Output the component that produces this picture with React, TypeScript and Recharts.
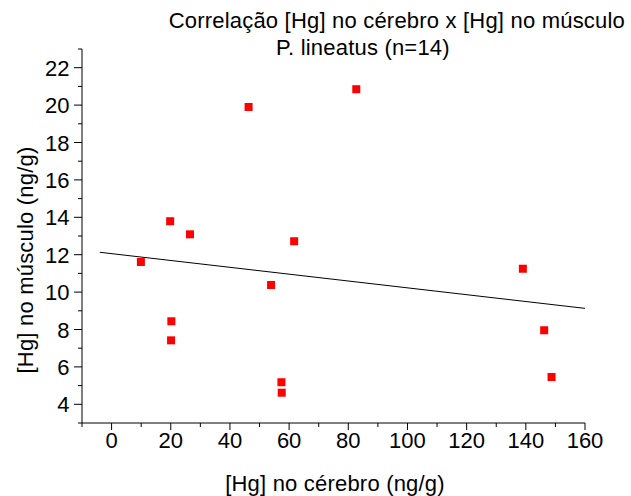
import React from "react";
import { ScatterChart, Scatter, XAxis, YAxis } from "recharts";

// [Hg] no cérebro (ng/g)
const cerebro = [82.7, 46.3, 19.8, 26.5, 61.7, 9.9, 53.9, 20.2, 20.1, 57.4, 57.5, 139.0, 146.2, 148.7];
// [Hg] no músculo (ng/g)
const musculo = [20.85, 19.9, 13.79, 13.09, 12.72, 11.61, 10.38, 8.44, 7.42, 5.18, 4.62, 11.25, 7.96, 5.46];

// regression line, end points
const fitX = [-4, 160];
const fitY = [12.13, 9.13];

const xTicks = [-10, 0, 10, 20, 30, 40, 50, 60, 70, 80, 90, 100, 110, 120, 130, 140, 150, 160];
const xLabels = [0, 20, 40, 60, 80, 100, 120, 140, 160];
const yTicks = [3, 4, 5, 6, 7, 8, 9, 10, 11, 12, 13, 14, 15, 16, 17, 18, 19, 20, 21, 22, 23];
const yLabels = [4, 6, 8, 10, 12, 14, 16, 18, 20, 22];

const points = cerebro.map((x, i) => ({ x, y: musculo[i] }));
const fit = fitX.map((x, i) => ({ x, y: fitY[i] }));

const FONT = '"Liberation Sans", Arial, Helvetica, sans-serif';

const XTick = (props: any) => {
  const { x, y, payload } = props;
  const major = xLabels.includes(payload.value);
  return (
    <g>
      <line x1={x} x2={x} y1={y} y2={y + (major ? 7 : 4)} stroke="#000" strokeWidth={1} />
      {major && (
        <text x={x} y={y + 25} textAnchor="middle" fontSize={22} fill="#000" fontFamily={FONT}>
          {payload.value}
        </text>
      )}
    </g>
  );
};

const YTick = (props: any) => {
  const { x, y, payload } = props;
  const major = yLabels.includes(payload.value);
  return (
    <g>
      <line x1={x} x2={x - (major ? 8 : 4)} y1={y} y2={y} stroke="#000" strokeWidth={1} />
      {major && (
        <text x={x - 12.5} y={y + 8} textAnchor="end" fontSize={22} fill="#000" fontFamily={FONT}>
          {payload.value}
        </text>
      )}
    </g>
  );
};

const Square = (props: any) => {
  const { cx, cy } = props;
  return <rect x={cx - 4} y={cy - 4} width={8} height={8} fill="#ff0000" />;
};

const App = () => {
  return (
    <div style={{ position: "absolute", left: 0, top: 0, width: 631, height: 496, background: "#fff" }}>
      <ScatterChart width={631} height={496} margin={{ top: 49, right: 46, bottom: 43, left: 0 }}>
        <XAxis
          type="number"
          dataKey="x"
          domain={[-10, 160]}
          ticks={xTicks}
          interval={0}
          allowDataOverflow
          height={30}
          tickSize={0}
          tickMargin={0}
          tickLine={false}
          axisLine={{ stroke: "#000", strokeWidth: 1 }}
          tick={XTick}
        />
        <YAxis
          type="number"
          dataKey="y"
          domain={[3, 23]}
          ticks={yTicks}
          interval={0}
          allowDataOverflow
          width={82}
          tickSize={0}
          tickMargin={0}
          tickLine={false}
          axisLine={{ stroke: "#000", strokeWidth: 1 }}
          tick={YTick}
        />
        <Scatter
          data={fit}
          line={{ stroke: "#000", strokeWidth: 1 }}
          shape={() => <g />}
          isAnimationActive={false}
        />
        <Scatter data={points} shape={Square} isAnimationActive={false} />
      </ScatterChart>
      <svg width={631} height={496} style={{ position: "absolute", left: 0, top: 0, pointerEvents: "none" }}>
        <g fontFamily={FONT} fontSize={22} fill="#000">
          <text x={625} y={28} textAnchor="end" letterSpacing={0.2}>
            Correlação [Hg] no cérebro x [Hg] no músculo
          </text>
          <text x={276} y={55} textAnchor="start" letterSpacing={0.2}>
            P. lineatus (n=14)
          </text>
          <text x={335} y={491} textAnchor="middle" letterSpacing={0.2}>
            [Hg] no cérebro (ng/g)
          </text>
          <text x={33} y={260} textAnchor="middle" letterSpacing={0.2} transform="rotate(-90 33 260)">
            [Hg] no músculo (ng/g)
          </text>
        </g>
      </svg>
    </div>
  );
};

export default App;
